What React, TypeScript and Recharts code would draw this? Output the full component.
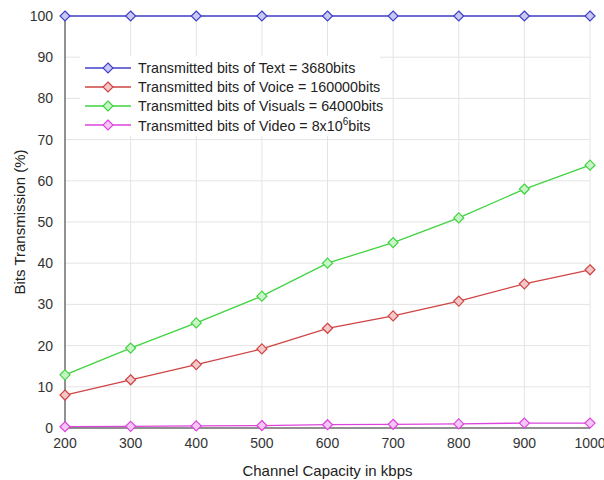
import { LineChart, Line, XAxis, YAxis, CartesianGrid } from "recharts";

const capacity = [200, 300, 400, 500, 600, 700, 800, 900, 1000];
const textBits = [100, 100, 100, 100, 100, 100, 100, 100, 100];
const voiceBits = [8, 11.7, 15.4, 19.2, 24.2, 27.2, 30.8, 35, 38.4];
const visualBits = [12.9, 19.4, 25.5, 32, 40, 45, 51, 58, 63.8];
const videoBits = [0.3, 0.4, 0.5, 0.6, 0.8, 0.9, 1.0, 1.2, 1.2];

const xTicks = [200, 300, 400, 500, 600, 700, 800, 900, 1000];
const yTicks = [0, 10, 20, 30, 40, 50, 60, 70, 80, 90, 100];

const series = [
  { key: "text", color: "#4040c8", fill: "#c8c8f0", label: "Transmitted bits of Text = 3680bits" },
  { key: "voice", color: "#d04444", fill: "#f4c8c8", label: "Transmitted bits of Voice = 160000bits" },
  { key: "visual", color: "#3fd43f", fill: "#c8f4c8", label: "Transmitted bits of Visuals = 64000bits" },
  { key: "video", color: "#dd44dd", fill: "#f4c8f4", label: "Transmitted bits of Video = 8x10", sup: "6", tail: "bits" },
];

const data = capacity.map((c, i) => ({
  c,
  text: textBits[i],
  voice: voiceBits[i],
  visual: visualBits[i],
  video: videoBits[i],
}));

const font = "'Liberation Sans', Arial, sans-serif";

function diamond(color: string, fill: string) {
  return (props: any) => {
    const { cx, cy, index } = props;
    if (cx == null || cy == null) return <g key={index} />;
    const r = 5;
    return (
      <polygon
        key={index}
        points={`${cx},${cy - r} ${cx + r},${cy} ${cx},${cy + r} ${cx - r},${cy}`}
        fill={fill}
        stroke={color}
        strokeWidth={1.2}
      />
    );
  };
}

function LegendBox() {
  return (
    <div
      style={{
        position: "absolute",
        left: 80,
        top: 56,
        width: 300,
        background: "#fff",
        fontFamily: font,
        fontSize: 14.3,
        color: "#222",
        padding: "2px 0",
      }}
    >
      {series.map((s) => (
        <div key={s.key} style={{ display: "flex", alignItems: "center", height: 19 }}>
          <svg width={58} height={14} style={{ flex: "none" }}>
            <line x1={5} y1={7} x2={51} y2={7} stroke={s.color} strokeWidth={1.3} />
            <polygon points="28,2 33,7 28,12 23,7" fill={s.fill} stroke={s.color} strokeWidth={1.2} />
          </svg>
          <span style={{ whiteSpace: "nowrap" }}>
            {s.label}
            {s.sup && <sup style={{ fontSize: 10 }}>{s.sup}</sup>}
            {s.tail}
          </span>
        </div>
      ))}
    </div>
  );
}

export default function App() {
  return (
    <div style={{ position: "absolute", left: 0, top: 0, width: 604, height: 480, background: "#fff" }}>
      <LineChart
        width={604}
        height={480}
        data={data}
        margin={{ top: 16, right: 14, left: 15, bottom: 22 }}
      >
        <CartesianGrid stroke="#e4e4e4" strokeWidth={1} />
        <XAxis
          dataKey="c"
          type="number"
          domain={[200, 1000]}
          ticks={xTicks}
          height={30}
          stroke="#707070"
          strokeWidth={1.5}
          tickLine={false}
          tick={{ fill: "#333", fontSize: 14, fontFamily: font }}
          tickMargin={4}
          label={{ value: "Channel Capacity in kbps", position: "insideBottom", offset: -18, fill: "#222", fontSize: 15, fontFamily: font }}
        />
        <YAxis
          type="number"
          domain={[0, 100]}
          ticks={yTicks}
          width={50}
          stroke="#707070"
          strokeWidth={1.5}
          tickLine={false}
          tick={{ fill: "#333", fontSize: 14, fontFamily: font }}
          tickMargin={6}
          label={{ value: "Bits Transmission (%)", angle: -90, position: "insideLeft", offset: 0, dx: 5, fill: "#222", fontSize: 15, fontFamily: font, style: { textAnchor: "middle" } }}
        />
        {series.map((s) => (
          <Line
            key={s.key}
            type="linear"
            dataKey={s.key}
            stroke={s.color}
            strokeWidth={1.3}
            dot={diamond(s.color, s.fill)}
            isAnimationActive={false}
          />
        ))}
      </LineChart>
      <LegendBox />
    </div>
  );
}
